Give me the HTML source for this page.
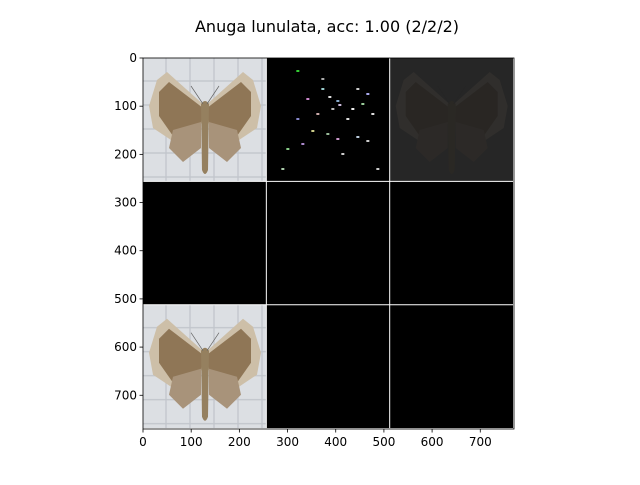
<!DOCTYPE html>
<html><head><meta charset="utf-8"><style>
body{margin:0;background:#fff;width:640px;height:480px;overflow:hidden}
text{font-family:"DejaVu Sans","Liberation Sans",sans-serif;font-size:12px;fill:#000}
</style></head><body>
<svg id="fig" width="640" height="480" viewBox="0 0 640 480">
<defs>
<pattern id="grid" width="24" height="24" patternUnits="userSpaceOnUse">
<rect width="24" height="24" fill="#dcdfe3"/>
<path d="M23 0V24M0 23H24" stroke="#c0c4ca" stroke-width="1.2"/>
</pattern>
<g id="moth">
<path d="M62 48 L24 14 L14 22 L6 48 L10 70 L28 82 L58 66Z" fill="#cdbfa8"/>
<path d="M62 48 L100 14 L110 22 L118 48 L114 70 L96 82 L66 66Z" fill="#cdbfa8"/>
<path d="M60 50 L26 24 L16 34 L16 58 L30 78 L58 66Z" fill="#8f7656"/>
<path d="M64 50 L98 24 L108 34 L108 58 L94 78 L66 66Z" fill="#8f7656"/>
<path d="M58 64 L30 72 L26 90 L40 104 L58 90Z" fill="#a8937a"/>
<path d="M66 64 L94 72 L98 90 L84 104 L66 90Z" fill="#a8937a"/>
<path d="M58 46 Q62 40 66 46 L65 112 Q62 120 59 112Z" fill="#95805f"/>
<path d="M60 46 L48 28 M64 46 L76 28" stroke="#666" stroke-width="0.7" fill="none"/>
</g>
</defs>
<text x="327" y="32" text-anchor="middle" style="font-size:16px">Anuga lunulata, acc: 1.00 (2/2/2)</text>
<g id="cells"></g>
<g id="axes"></g>
</svg>
<script>
const xTicks=[0,100,200,300,400,500,600,700];
const yTicks=[0,100,200,300,400,500,600,700];
const extent=770, cellSize=256;
const cellKinds=[["photo","specks","dark"],["black","black","black"],["photo","black","black"]];
const X0=143,Y0=58,W=371;
const sx=v=>X0+v*W/extent, sy=v=>Y0+v*W/extent;
const NS="http://www.w3.org/2000/svg";
const cells=document.getElementById('cells'), axes=document.getElementById('axes');
function mk(t,a,p){const e=document.createElementNS(NS,t);for(const k in a)e.setAttribute(k,a[k]);p.appendChild(e);return e;}
const cs=cellSize*W/extent;
const specks=[[30,12,"#3c3"],[40,40,"#c8c"],[55,30,"#9cc"],[62,38,"#ddd"],[70,42,"#8ac"],[90,30,"#ccc"],[100,35,"#aae"],[80,60,"#ddd"],[60,75,"#9b9"],[70,80,"#c9c"],[90,78,"#bcd"],[30,60,"#88c"],[45,72,"#cc8"],[20,90,"#8c8"],[75,95,"#ccc"],[55,20,"#aaa"],[105,55,"#ddd"],[15,110,"#aca"],[110,110,"#ccc"],[50,55,"#caa"],[85,50,"#eee"],[65,50,"#bbb"],[95,45,"#9c9"],[72,46,"#cbd"],[100,82,"#ccc"],[35,85,"#a8c"]];
cellKinds.forEach((row,r)=>row.forEach((k,c)=>{
 const x=sx(c*cellSize), y=sy(r*cellSize);
 const g=mk('g',{transform:`translate(${x},${y})`},cells);
 
 
 if(k==="photo"){mk('rect',{width:cs,height:cs,fill:'url(#grid)'},g);mk('use',{href:'#moth'},g);}
 else if(k==="dark"){mk('rect',{width:cs,height:cs,fill:'#262626'},g);const u=mk('use',{href:'#moth',opacity:'0.3'},g);u.style.filter='brightness(0.35)';}
 else {mk('rect',{width:cs,height:cs,fill:'#000'},g);
  if(k==="specks")specks.forEach(s=>mk('rect',{x:s[0],y:s[1],width:3,height:2,fill:s[2]},g));}
}));
[1,2].forEach(i=>{
 const l1=mk('line',{x1:sx(i*cellSize),x2:sx(i*cellSize),y1:Y0,y2:Y0+W,stroke:'#fff','stroke-width':1},cells);
 
 const l2=mk('line',{y1:sy(i*cellSize),y2:sy(i*cellSize),x1:X0,x2:X0+W,stroke:'#fff','stroke-width':1},cells);
 
});
const fr=mk('rect',{x:X0,y:Y0,width:W,height:W,fill:'none',stroke:'#000','stroke-width':0.8},axes);

xTicks.forEach(v=>{const x=sx(v);
 const t=mk('line',{x1:x,x2:x,y1:Y0+W,y2:Y0+W+3.5,stroke:'#000','stroke-width':0.8},axes);
 
 const l=mk('text',{x:x,y:Y0+W+17,'text-anchor':'middle'},axes);l.textContent=v;
 });
yTicks.forEach(v=>{const y=sy(v);
 const t=mk('line',{x1:X0-3.5,x2:X0,y1:y,y2:y,stroke:'#000','stroke-width':0.8},axes);
 
 const l=mk('text',{x:X0-6,y:y+4,'text-anchor':'end'},axes);l.textContent=v;
 });
</script>
</body></html>
